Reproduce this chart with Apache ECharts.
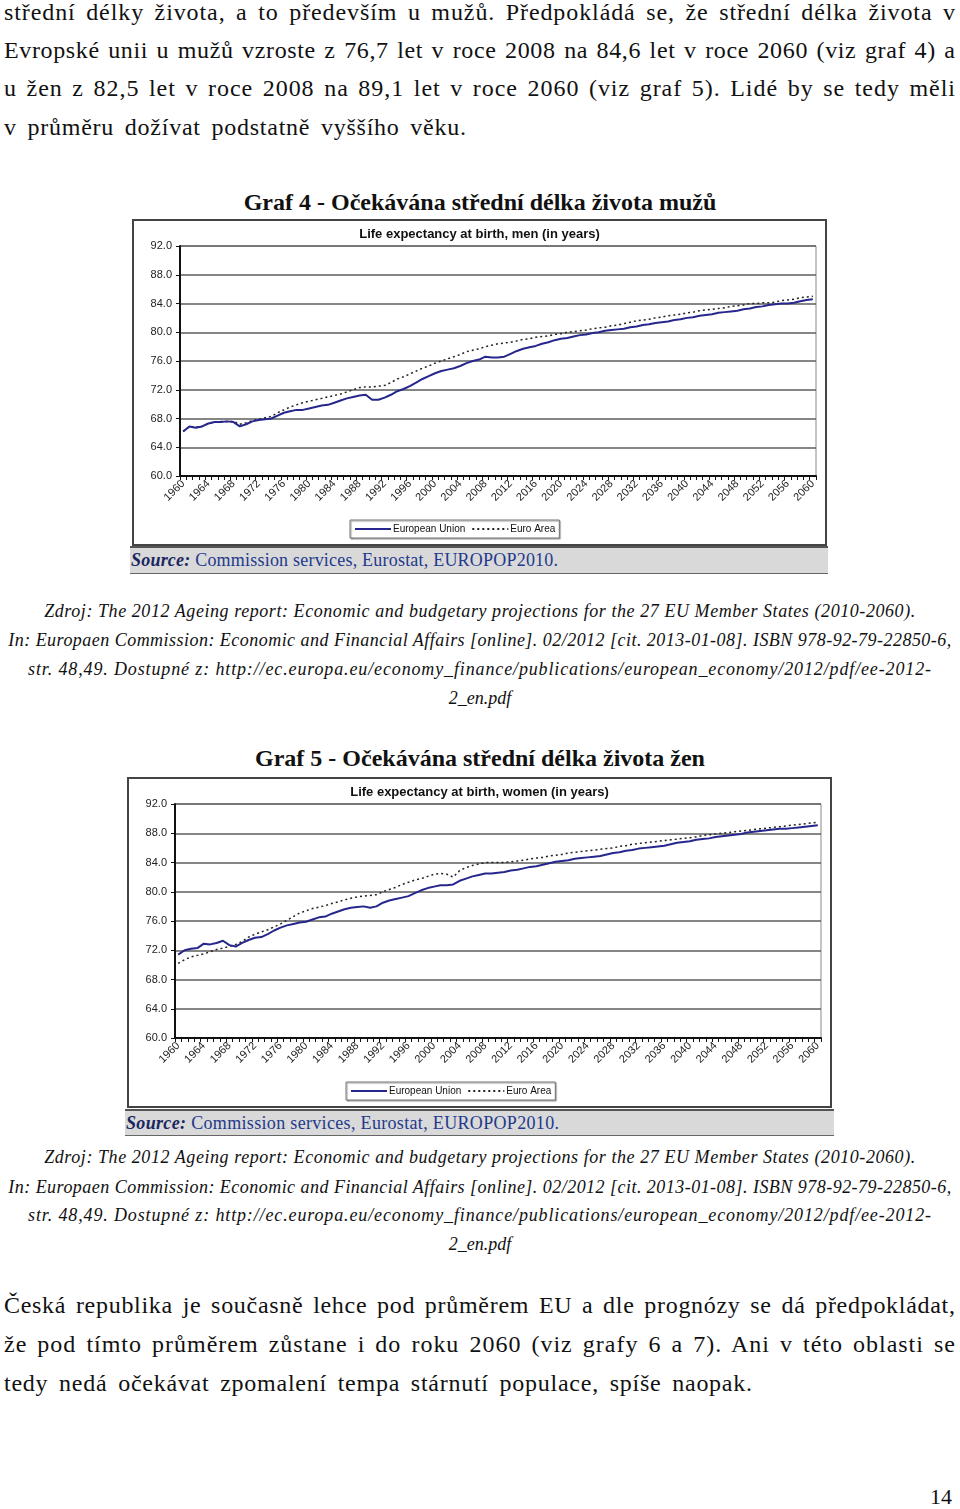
<!DOCTYPE html>
<html><head><meta charset="utf-8">
<script src="https://cdn.jsdelivr.net/npm/echarts@6/dist/echarts.min.js"></script>
<style>
html,body{margin:0;padding:0;background:#fff;}
body{width:960px;height:1509px;position:relative;overflow:hidden;font-family:"Liberation Serif","DejaVu Serif",serif;color:#111;}
.ln{position:absolute;white-space:nowrap;font-size:24px;line-height:30px;}
.cap{position:absolute;white-space:nowrap;font-style:italic;font-size:18px;line-height:24px;left:0;width:960px;text-align:center;}
.ttl{position:absolute;white-space:nowrap;font-weight:bold;font-size:24px;line-height:28px;left:0;width:960px;text-align:center;}
.box{position:absolute;border:2px solid #444;box-sizing:border-box;background:#fff;}
.chart{position:absolute;}
.src{position:absolute;background:#d9d9d9;border-top:2px solid #555;border-bottom:1px solid #666;box-sizing:border-box;}
.src span{position:absolute;left:1px;top:1px;font-size:18px;line-height:22px;color:#233a8c;white-space:nowrap;}
.src b{color:#1a2660;font-style:italic;}
</style></head>
<body>
<div class="ln fit" data-x0="4" data-x1="955" style="top:-3px">střední délky života, a to především u mužů. Předpokládá se, že střední délka života v</div>
<div class="ln fit" data-x0="4" data-x1="955" style="top:35px">Evropské unii u mužů vzroste z 76,7 let v roce 2008 na 84,6 let v roce 2060 (viz graf 4) a</div>
<div class="ln fit" data-x0="4" data-x1="955" style="top:73px">u žen z 82,5 let v roce 2008 na 89,1 let v roce 2060 (viz graf 5). Lidé by se tedy měli</div>
<div class="ln fit" data-x0="4" data-x1="466" style="top:112px">v průměru dožívat podstatně vyššího věku.</div>

<div class="ttl" style="top:188px">Graf 4 - Očekávána střední délka života mužů</div>
<div class="box" style="left:132px;top:219px;width:695px;height:327px"></div>
<div id="c1" class="chart" style="left:133px;top:220px;width:693px;height:325px"></div>
<div class="src" style="left:130px;top:546px;width:698px;height:28px"><span class="fitspan" data-w="427"><b>Source:</b> Commission services, Eurostat, EUROPOP2010.</span></div>

<div class="cap fitc" data-w="871" style="top:599px">Zdroj: The 2012 Ageing report: Economic and budgetary projections for the 27 EU Member States (2010-2060).</div>
<div class="cap fitc" data-w="943" style="top:628px">In: Europaen Commission: Economic and Financial Affairs [online]. 02/2012 [cit. 2013-01-08]. ISBN 978-92-79-22850-6,</div>
<div class="cap fitc" data-w="903" style="top:657px">str. 48,49. Dostupné z: http://ec.europa.eu/economy_finance/publications/european_economy/2012/pdf/ee-2012-</div>
<div class="cap" style="top:686px">2_en.pdf</div>

<div class="ttl" style="top:744px">Graf 5 - Očekávána střední délka života žen</div>
<div class="box" style="left:127px;top:777px;width:705px;height:331px"></div>
<div id="c2" class="chart" style="left:128px;top:778px;width:703px;height:329px"></div>
<div class="src" style="left:125px;top:1109px;width:709px;height:27px"><span class="fitspan" data-w="433"><b>Source:</b> Commission services, Eurostat, EUROPOP2010.</span></div>

<div class="cap fitc" data-w="871" style="top:1145px">Zdroj: The 2012 Ageing report: Economic and budgetary projections for the 27 EU Member States (2010-2060).</div>
<div class="cap fitc" data-w="943" style="top:1175px">In: Europaen Commission: Economic and Financial Affairs [online]. 02/2012 [cit. 2013-01-08]. ISBN 978-92-79-22850-6,</div>
<div class="cap fitc" data-w="903" style="top:1203px">str. 48,49. Dostupné z: http://ec.europa.eu/economy_finance/publications/european_economy/2012/pdf/ee-2012-</div>
<div class="cap" style="top:1232px">2_en.pdf</div>

<div class="ln fit" data-x0="4" data-x1="955" style="top:1290px">Česká republika je současně lehce pod průměrem EU a dle prognózy se dá předpokládat,</div>
<div class="ln fit" data-x0="4" data-x1="955" style="top:1329px">že pod tímto průměrem zůstane i do roku 2060 (viz grafy 6 a 7). Ani v této oblasti se</div>
<div class="ln fit" data-x0="4" data-x1="752" style="top:1368px">tedy nedá očekávat zpomalení tempa stárnutí populace, spíše naopak.</div>

<div class="ln" style="left:930px;top:1482px;font-size:22px">14</div>

<script>
// ---- data ----
const years = [];
for (let y = 1960; y <= 2060; y++) years.push(String(y));

const menEU = [
66.2,66.9,66.7,66.9,67.3,67.5,67.5,67.6,67.5,66.9,
67.2,67.6,67.8,67.9,68.0,68.4,68.8,69.0,69.2,69.2,
69.4,69.6,69.8,69.9,70.2,70.5,70.8,71.0,71.2,71.3,
70.6,70.6,70.9,71.3,71.8,72.1,72.5,73.0,73.5,73.9,
74.3,74.6,74.8,75.0,75.3,75.7,76.0,76.2,76.6,76.5,
76.5,76.6,77.0,77.4,77.7,77.9,78.1,78.4,78.6,78.9,
79.1,79.2,79.4,79.6,79.7,79.9,80.0,80.2,80.3,80.4,
80.5,80.7,80.8,81.0,81.1,81.3,81.4,81.5,81.7,81.8,
82.0,82.1,82.3,82.4,82.5,82.7,82.8,82.9,83.0,83.2,
83.3,83.5,83.6,83.8,83.9,84.0,84.0,84.1,84.3,84.5,
84.6];
const menEA = [
66.2,66.9,66.8,66.9,67.3,67.5,67.6,67.6,67.6,67.2,
67.4,67.7,67.9,68.1,68.3,68.8,69.2,69.6,69.9,70.2,
70.4,70.6,70.8,71.0,71.2,71.4,71.7,72.0,72.3,72.4,
72.4,72.5,72.6,73.0,73.5,73.8,74.2,74.6,75.0,75.3,
75.7,76.0,76.3,76.6,76.9,77.3,77.5,77.7,78.0,78.2,
78.4,78.5,78.6,78.8,79.0,79.1,79.3,79.4,79.5,79.7,
79.8,80.0,80.1,80.2,80.3,80.5,80.6,80.7,80.9,81.0,
81.2,81.4,81.6,81.7,81.8,82.0,82.1,82.3,82.4,82.5,
82.7,82.8,83.0,83.1,83.2,83.3,83.4,83.6,83.7,83.8,
84.0,84.0,84.1,84.1,84.2,84.4,84.5,84.6,84.8,84.9,
85.0];
const womenEU = [
71.4,72.0,72.2,72.3,72.9,72.8,73.0,73.3,72.7,72.5,
73.0,73.4,73.7,73.8,74.2,74.7,75.1,75.4,75.6,75.8,
75.9,76.2,76.5,76.6,77.0,77.3,77.6,77.8,77.9,78.0,
77.8,78.0,78.5,78.8,79.0,79.2,79.4,79.8,80.2,80.5,
80.7,80.9,80.9,81.0,81.5,81.8,82.1,82.3,82.5,82.5,
82.6,82.7,82.9,83.0,83.2,83.4,83.5,83.7,83.9,84.1,
84.2,84.3,84.5,84.6,84.7,84.8,84.9,85.1,85.3,85.4,
85.6,85.7,85.9,86.0,86.1,86.2,86.3,86.5,86.7,86.8,
86.9,87.1,87.2,87.3,87.5,87.6,87.7,87.8,87.9,88.1,
88.2,88.3,88.4,88.5,88.6,88.6,88.7,88.8,88.9,89.0,
89.1];
const womenEA = [
70.2,70.7,71.1,71.3,71.5,71.8,72.1,72.3,72.5,72.8,
73.2,73.8,74.2,74.5,74.8,75.2,75.6,76.1,76.6,77.1,
77.4,77.7,77.9,78.1,78.4,78.6,78.9,79.1,79.3,79.4,
79.5,79.6,80.0,80.3,80.6,81.0,81.3,81.6,81.8,82.1,
82.4,82.5,82.4,82.0,82.9,83.3,83.6,83.8,84.0,84.0,
84.0,84.0,84.1,84.2,84.3,84.5,84.6,84.7,84.9,85.0,
85.1,85.3,85.4,85.5,85.6,85.7,85.8,85.9,86.0,86.2,
86.3,86.5,86.6,86.7,86.8,86.9,87.0,87.1,87.2,87.3,
87.4,87.5,87.7,87.8,87.9,88.0,88.1,88.2,88.3,88.4,
88.5,88.6,88.7,88.8,88.9,89.0,89.1,89.2,89.3,89.4,
89.5];
const seriesNames = ['European Union', 'Euro Area'];
const titleMen = 'Life expectancy at birth, men (in years)';
const titleWomen = 'Life expectancy at birth, women (in years)';

// ---- text fitting ----
function fitLines() {
  document.querySelectorAll('.fit').forEach(el => {
    const x0 = +el.dataset.x0, x1 = +el.dataset.x1;
    el.style.left = x0 + 'px';
    const w = el.getBoundingClientRect().width;
    const extra = x1 - x0 - w;
    const n = el.textContent.length - 1;
    const spaces = (el.textContent.match(/ /g) || []).length;
    el.style.letterSpacing = (extra * 0.6 / n) + 'px';
    el.style.wordSpacing = (extra * 0.4 / Math.max(spaces, 1)) + 'px';
  });
  document.querySelectorAll('.fitc,.fitspan').forEach(el => {
    const target = +el.dataset.w;
    const span = el;
    span.style.display = 'inline-block';
    span.style.width = 'auto';
    const w = span.getBoundingClientRect().width;
    const n = span.textContent.length - 1;
    span.style.letterSpacing = ((target - w) / n) + 'px';
    if (el.classList.contains('fitc')) { span.style.display = ''; span.style.width = '960px'; }
  });
}
fitLines();

function makeOption(title, eu, ea, legendLeft, legendTop) {
  return {
    animation: false,
    title: { text: title, left: 'center', top: 3,
      textStyle: { fontFamily: 'Liberation Sans, Arial', fontSize: 13, fontWeight: 'bold', color: '#111' } },
    grid: { left: 47, right: 10, top: 26, bottom: 69, show: true, borderColor: '#888', borderWidth: 1 },
    legend: {
      left: legendLeft, top: legendTop, orient: 'horizontal',
      backgroundColor: '#fff', borderColor: '#777', borderWidth: 1, padding: [4, 4],
      itemWidth: 36, itemHeight: 8, itemGap: 6,
      itemStyle: { opacity: 0 },
      shadowColor: 'rgba(0,0,0,0.4)', shadowOffsetX: 1, shadowOffsetY: 1, shadowBlur: 1,
      textStyle: { fontFamily: 'Liberation Sans, Arial', fontSize: 10, color: '#111', padding: [0,0,0,-3] },
      data: seriesNames
    },
    xAxis: {
      type: 'category', data: years, boundaryGap: true,
      axisLine: { lineStyle: { color: '#111', width: 2 } },
      axisTick: { show: true, interval: 0, length: 4, lineStyle: { color: '#111', width: 1 } },
      axisLabel: { interval: 3, rotate: 45, margin: 6, fontFamily: 'Liberation Sans, Arial', fontSize: 11, color: '#222' },
      splitLine: { show: false }
    },
    yAxis: {
      type: 'value', min: 60, max: 92, interval: 4,
      axisLine: { show: true, lineStyle: { color: '#111', width: 2 } },
      axisTick: { show: true, length: 4, lineStyle: { color: '#111' } },
      axisLabel: { margin: 8, fontFamily: 'Liberation Sans, Arial', fontSize: 11, color: '#222',
        formatter: v => v.toFixed(1) },
      splitLine: { show: true, lineStyle: { color: '#5e5e5e', width: 1.5 } }
    },
    series: [
      { name: seriesNames[1], type: 'line', data: ea, symbol: 'none', z: 2,
        lineStyle: { color: '#222', width: 1.5, type: [2, 3] }, itemStyle: { color: '#222' } },
      { name: seriesNames[0], type: 'line', data: eu, symbol: 'none', z: 3,
        lineStyle: { color: '#26268c', width: 2 }, itemStyle: { color: '#26268c' } }
    ]
  };
}

const c1 = echarts.init(document.getElementById('c1'), null, { renderer: 'canvas' });
c1.setOption(makeOption(titleMen, menEU, menEA, 217, 300));
const c2 = echarts.init(document.getElementById('c2'), null, { renderer: 'canvas' });
c2.setOption(makeOption(titleWomen, womenEU, womenEA, 218, 304));
</script>
</body></html>
